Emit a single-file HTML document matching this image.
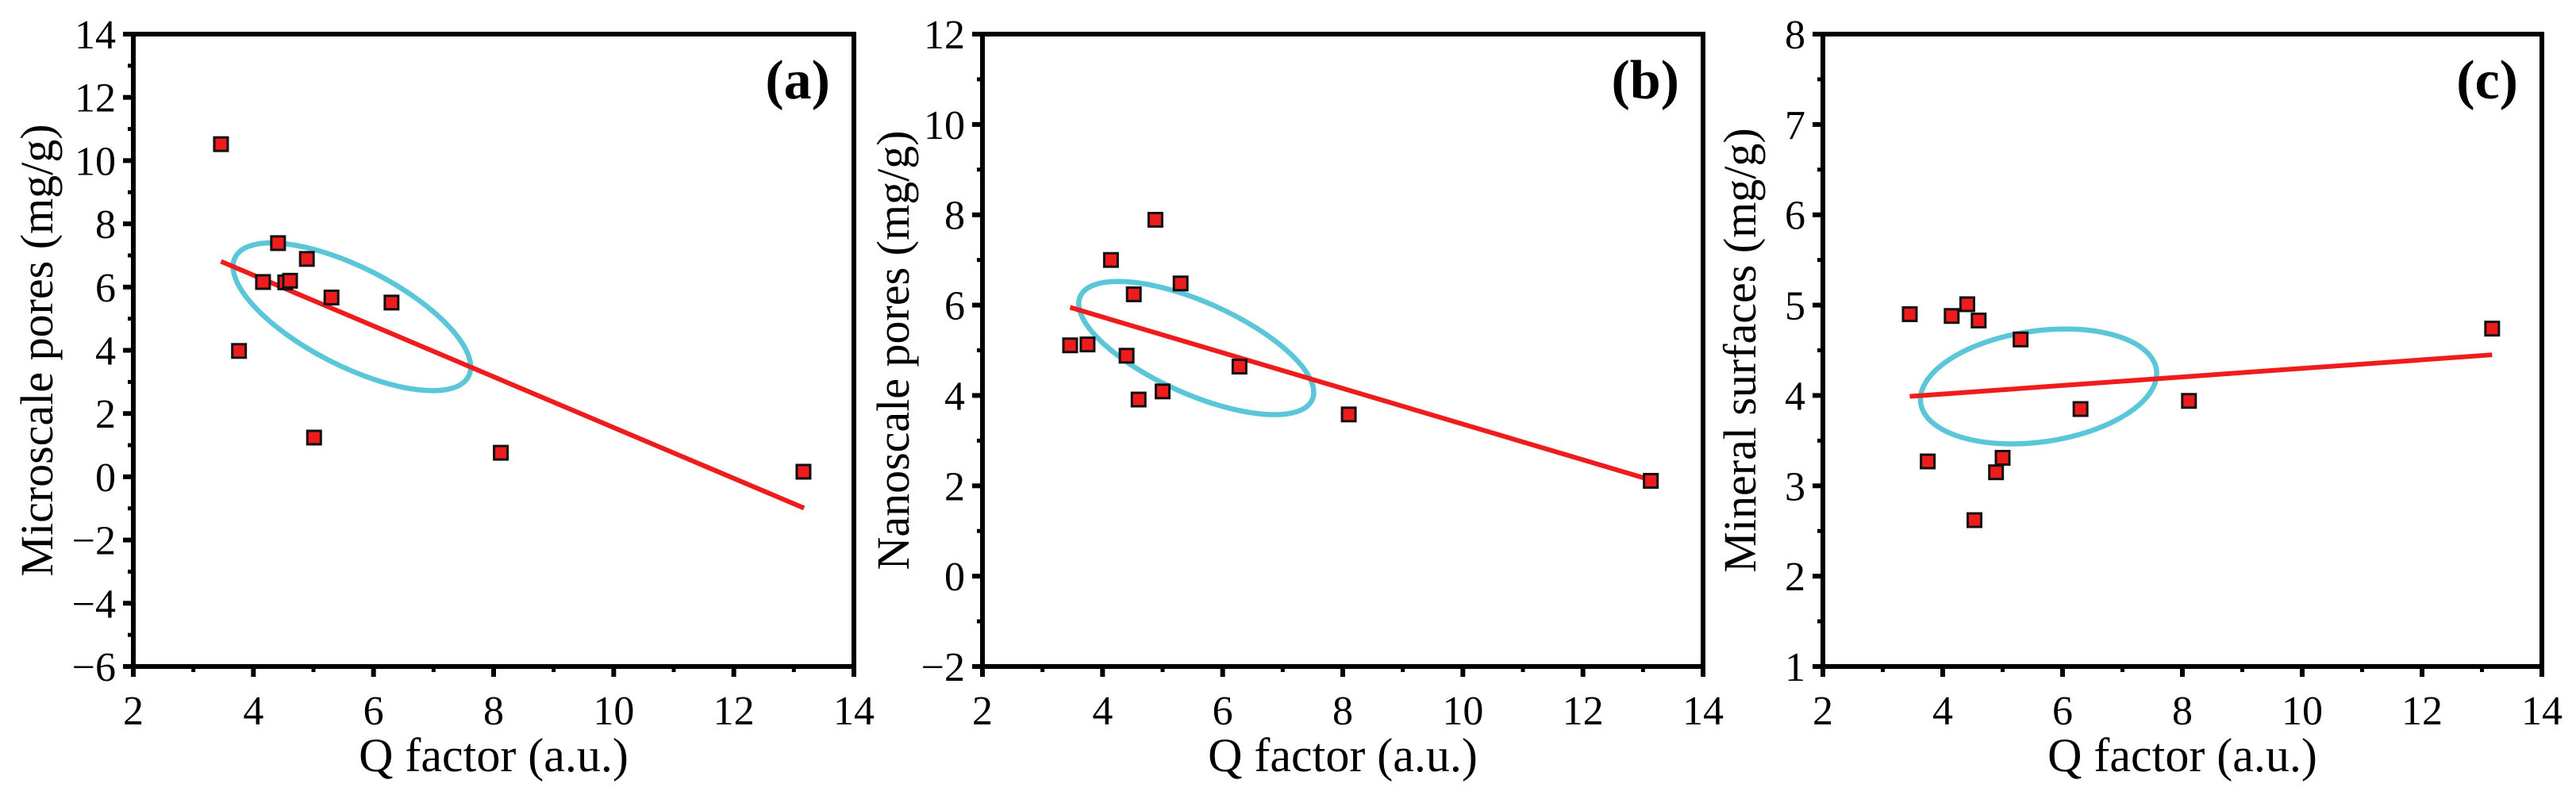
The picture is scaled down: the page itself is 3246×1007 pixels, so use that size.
<!DOCTYPE html>
<html><head><meta charset="utf-8"><style>
html,body{margin:0;padding:0;background:#fff}
svg{display:block}
text{font-family:"Liberation Serif",serif;fill:#000}
</style></head><body>
<svg id="fig" width="3246" height="1007" viewBox="0 0 3246 1007" xmlns="http://www.w3.org/2000/svg"></svg>
<script>
const qA=[3.46,4.41,4.89,4.16,4.53,4.61,5.30,6.30,3.76,5.01,8.12,13.16];
const microA=[10.52,7.39,6.89,6.16,6.15,6.20,5.67,5.51,3.98,1.24,0.76,0.16];
const fitA=[[3.46,6.81],[13.17,-0.99]];
const qB=[3.46,3.75,4.14,4.52,4.40,4.60,4.88,5.00,5.30,6.28,8.10,13.13];
const nanoB=[5.11,5.13,7.00,6.24,4.88,3.91,7.89,4.09,6.48,4.64,3.58,2.11];
const fitB=[[3.46,5.95],[13.13,2.13]];
const qC=[3.45,3.75,4.15,4.41,4.53,4.60,4.89,5.00,5.30,6.30,8.11,13.17];
const minC=[4.90,3.27,4.88,5.01,2.62,4.83,3.15,3.31,4.62,3.85,3.94,4.74];
const fitC=[[3.45,3.99],[13.17,4.45]];
const xTicks=[2,4,6,8,10,12,14];
const yTicksA=[-6,-4,-2,0,2,4,6,8,10,12,14];
const yTicksB=[-2,0,2,4,6,8,10,12];
const yTicksC=[1,2,3,4,5,6,7,8];
const NS="http://www.w3.org/2000/svg";
const svg=document.getElementById('fig');
function mk(tag,attrs,parent){const e=document.createElementNS(NS,tag);for(const k in attrs)e.setAttribute(k,attrs[k]);(parent||svg).appendChild(e);return e;}
const TOP=43,BOT=840;
function panel(id,left,right,ymin,ymax,yt,xs,ys,fit,ell,ytitle,label,titleOff){
  const g=mk('g',{});
  
  
  const X=v=>left+(v-2)/12*(right-left);
  const Y=v=>BOT-(v-ymin)/(ymax-ymin)*(BOT-TOP);
  const ce=mk('ellipse',{cx:X(ell[0]),cy:Y(ell[1]),rx:ell[2],ry:ell[3],transform:`rotate(${ell[4]} ${X(ell[0])} ${Y(ell[1])})`,fill:'none',stroke:'#5bc6d8','stroke-width':6.5},g);
  
  
  const fl=mk('line',{x1:X(fit[0][0]),y1:Y(fit[0][1]),x2:X(fit[1][0]),y2:Y(fit[1][1]),stroke:'#ee1c1c','stroke-width':6},g);
  
  
  for(let i=0;i<xs.length;i++){
    const r=mk('rect',{x:X(xs[i])-8.5,y:Y(ys[i])-8.5,width:17,height:17,fill:'#ee1c1c',stroke:'#111','stroke-width':3},g);
    
    
  }
  const fr=mk('rect',{x:left,y:TOP,width:right-left,height:BOT-TOP,fill:'none',stroke:'#000','stroke-width':6},g);
  
  
  for(let i=0;i<xTicks.length;i++){
    const v=xTicks[i],x=X(v);
    mk('line',{x1:x,y1:BOT,x2:x,y2:BOT+13,stroke:'#000','stroke-width':6},g);
    if(i<xTicks.length-1){const xm=X(v+1);mk('line',{x1:xm,y1:BOT,x2:xm,y2:BOT+7,stroke:'#000','stroke-width':5},g);}
    const t=mk('text',{x:x,y:913,'font-size':52,'text-anchor':'middle'},g);t.textContent=v;
    
    
  }
  for(let i=0;i<yt.length;i++){
    const v=yt[i],y=Y(v);
    mk('line',{x1:left-13,y1:y,x2:left,y2:y,stroke:'#000','stroke-width':6},g);
    if(i<yt.length-1){const ym=Y(v+(yt[1]-yt[0])/2);mk('line',{x1:left-7,y1:ym,x2:left,y2:ym,stroke:'#000','stroke-width':5},g);}
    const t=mk('text',{x:left-22,y:y+18,'font-size':52,'text-anchor':'end'},g);t.textContent=(v<0?'\u2212'+(-v):v);
    
    
  }
  const xt=mk('text',{x:(left+right)/2,y:972,'font-size':60,'text-anchor':'middle'},g);xt.textContent='Q factor (a.u.)';
  
  
  const yy=mk('text',{x:0,y:0,'font-size':58,'text-anchor':'middle',transform:`translate(${left-titleOff} ${(TOP+BOT)/2}) rotate(-90)`},g);yy.textContent=ytitle;
  
  
  const pl=mk('text',{x:right-30,y:124,'font-size':70,'font-weight':'bold','text-anchor':'end'},g);pl.textContent=label;
  
  
}
panel('a',168,1076,-6,14,yTicksA,qA,microA,fitA,[5.64,5.06,165,62,27],'Microscale pores (mg/g)','(a)',102);
panel('b',1238,2146,-2,12,yTicksB,qB,nanoB,fitB,[5.56,5.05,160,58,24],'Nanoscale pores (mg/g)','(b)',93);
panel('c',2297,3203,1,8,yTicksC,qC,minC,fitC,[5.60,4.10,150,70,-8],'Mineral surfaces (mg/g)','(c)',85);
</script>
</body></html>
